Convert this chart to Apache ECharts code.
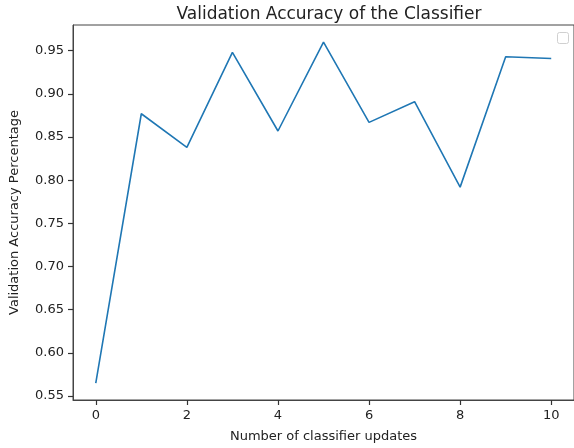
<!DOCTYPE html>
<html>
<head>
<meta charset="utf-8">
<script src="https://cdn.jsdelivr.net/npm/echarts@6/dist/echarts.min.js"></script>
<style>
html,body{margin:0;padding:0;background:#fff;overflow:hidden;}
#chart{width:574px;height:448px;}
</style>
</head>
<body>
<div id="chart"></div>
<script>
const updates = [0, 1, 2, 3, 4, 5, 6, 7, 8, 9, 10];
const accuracy = [0.565, 0.877, 0.838, 0.948, 0.857, 0.960, 0.867, 0.891, 0.792, 0.943, 0.941];
const xTicks = [0, 2, 4, 6, 8, 10];
const yTicks = [0.55, 0.60, 0.65, 0.70, 0.75, 0.80, 0.85, 0.90, 0.95];

const font = 'DejaVu Sans';
const axisColor = '#444';
const chart = echarts.init(document.getElementById('chart'));
chart.setOption({
  animation: false,
  title: {
    text: 'Validation Accuracy of the Classifier',
    left: 324, top: 1, textAlign: 'center',
    textStyle: {fontFamily: font, fontSize: 17, fontWeight: 'normal', color: '#222'}
  },
  grid: {left: 73, top: 25, width: 503, height: 375, show: true, borderColor: axisColor, borderWidth: 1, backgroundColor: 'transparent'},
  xAxis: {
    type: 'value', min: -0.5, max: 10.5,
    name: 'Number of classifier updates', nameLocation: 'middle', nameGap: 30,
    nameTextStyle: {fontFamily: font, fontSize: 13, color: '#222'},
    axisLine: {show: true, onZero: false, lineStyle: {color: axisColor, width: 1}},
    axisTick: {show: true, inside: false, length: 5, lineStyle: {color: '#333', width: 1.2}, customValues: xTicks},
    axisLabel: {fontFamily: font, fontSize: 13, color: '#222', margin: 9, customValues: xTicks, formatter: v => String(v)},
    splitLine: {show: false}
  },
  yAxis: {
    type: 'value', min: 0.5454, max: 0.9798,
    name: 'Validation Accuracy Percentage', nameLocation: 'middle', nameGap: 52,
    nameTextStyle: {fontFamily: font, fontSize: 13, color: '#222'},
    axisLine: {show: true, onZero: false, lineStyle: {color: axisColor, width: 1}},
    axisTick: {show: true, inside: false, length: 5, lineStyle: {color: '#333', width: 1.2}, customValues: yTicks},
    axisLabel: {fontFamily: font, fontSize: 13, color: '#222', margin: 9, customValues: yTicks, formatter: v => v.toFixed(2)},
    splitLine: {show: false}
  },
  graphic: [{
    type: 'rect', left: 557, top: 32,
    shape: {width: 11, height: 11, r: 2},
    style: {fill: '#fff', stroke: '#d0d0d0', lineWidth: 1}
  }],
  series: [{
    type: 'line',
    data: updates.map((u, i) => [u, accuracy[i]]),
    showSymbol: false,
    lineStyle: {color: '#1f77b4', width: 1.6},
    itemStyle: {color: '#1f77b4'}
  }]
});
</script>
</body>
</html>
